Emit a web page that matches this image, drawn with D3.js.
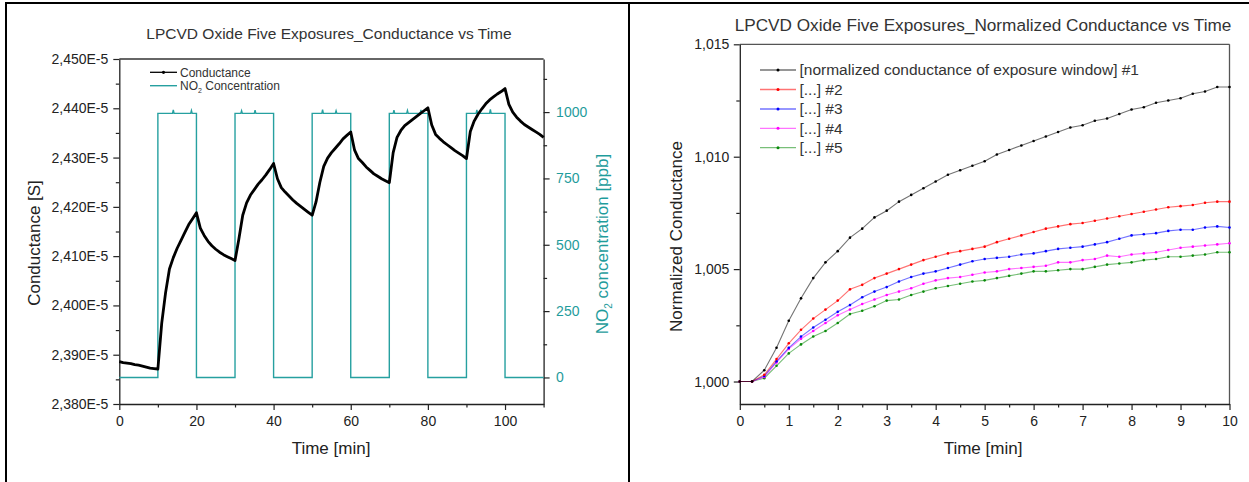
<!DOCTYPE html>
<html><head><meta charset="utf-8">
<script src="https://cdn.jsdelivr.net/npm/d3@7"></script>
<style>body{margin:0;background:#fff} svg{display:block} text{font-family:"Liberation Sans",Arial,sans-serif}</style>
</head><body><svg id="c" width="1249" height="482"></svg>
<script>
// ---------- Left chart data ----------
const condTime = d3.range(0, 111); // minutes
const condValue = [ // conductance in units of E-5 S
  2.3886, 2.3884, 2.3883, 2.3882, 2.3880, 2.3879, 2.3877, 2.3875, 2.3873, 2.3872, 2.3871,
  2.3964, 2.4026, 2.4074, 2.4097, 2.4116, 2.4132, 2.4148, 2.4164, 2.4176, 2.4188,
  2.4157, 2.4142, 2.4130, 2.4121, 2.4114, 2.4108, 2.4103, 2.4099, 2.4095, 2.4091,
  2.4135, 2.4183, 2.4208, 2.4224, 2.4235, 2.4246, 2.4255, 2.4265, 2.4276, 2.4288,
  2.4257, 2.4239, 2.4230, 2.4222, 2.4214, 2.4207, 2.4201, 2.4195, 2.4189, 2.4183,
  2.4210, 2.4250, 2.4282, 2.4299, 2.4310, 2.4319, 2.4328, 2.4338, 2.4345, 2.4352,
  2.4315, 2.4298, 2.4290, 2.4281, 2.4274, 2.4267, 2.4262, 2.4257, 2.4253, 2.4249,
  2.4310, 2.4341, 2.4355, 2.4365, 2.4371, 2.4377, 2.4383, 2.4389, 2.4395, 2.4401,
  2.4366, 2.4347, 2.4339, 2.4332, 2.4326, 2.4320, 2.4314, 2.4309, 2.4304, 2.4298,
  2.4353, 2.4374, 2.4388, 2.4399, 2.4409, 2.4417, 2.4423, 2.4429, 2.4434, 2.4440,
  2.4408, 2.4392, 2.4382, 2.4374, 2.4367, 2.4362, 2.4357, 2.4352, 2.4347, 2.4341
];
const no2Time  = [0, 10, 10, 13.8, 14, 14.2, 18.5, 18.7, 18.9, 20, 20,
  30, 30, 31.5, 31.7, 31.9, 35, 35.2, 35.4, 20+20, 40,
  50, 50, 52.5, 52.7, 52.9, 56, 56.2, 56.4, 60, 60,
  70, 70, 71, 71.2, 71.4, 74.5, 74.7, 74.9, 78, 78.2, 78.4, 80, 80,
  90, 90, 92.5, 92.7, 92.9, 96, 96.2, 96.4, 100, 100, 110];
const no2Value = [0, 0, 995, 995, 1008, 995, 995, 1006, 995, 995, 0,
  0, 995, 995, 1005, 995, 995, 1007, 995, 995, 0,
  0, 995, 995, 1009, 995, 995, 1005, 995, 995, 0,
  0, 995, 995, 1007, 995, 995, 1006, 995, 995, 1008, 995, 995, 0,
  0, 995, 995, 1008, 995, 995, 1010, 995, 995, 0, 0];
const leftYTicks = [2.38, 2.39, 2.40, 2.41, 2.42, 2.43, 2.44, 2.45];
const leftYMinor = [2.385, 2.395, 2.405, 2.415, 2.425, 2.435, 2.445];
const no2Ticks = [0, 250, 500, 750, 1000];
const no2Minor = [125, 375, 625, 875, 1125];
const leftXTicks = [0, 20, 40, 60, 80, 100];
const leftXMinor = [10, 30, 50, 70, 90, 110];

// ---------- Right chart data ----------
const normTime = [0,0.25,0.5,0.75,1,1.25,1.5,1.75,2,2.25,2.5,2.75,3,3.25,3.5,3.75,4,4.25,4.5,4.75,5,
  5.25,5.5,5.75,6,6.25,6.5,6.75,7,7.25,7.5,7.75,8,8.25,8.5,8.75,9,9.25,9.5,9.75,10];
const norm1 = [1.0000,1.0000,1.0005,1.0015,1.0027,1.0037,1.0046,1.0053,1.0058,1.0064,1.0068,1.0073,1.0076,1.0080,1.0083,1.0086,1.0089,1.0092,1.0094,1.0096,1.0098,
  1.0101,1.0103,1.0105,1.0107,1.0109,1.0111,1.0113,1.0114,1.0116,1.0117,1.0119,1.0121,1.0122,1.0124,1.0125,1.0126,1.0128,1.0129,1.0131,1.0131];
const norm2 = [1.0000,1.0000,1.0003,1.0010,1.0017,1.0023,1.0028,1.0032,1.0036,1.0041,1.0043,1.0046,1.0048,1.0050,1.0052,1.0054,1.00555,1.0057,1.0058,1.0059,1.0060,
  1.0062,1.00635,1.0065,1.00665,1.0068,1.0069,1.0070,1.00705,1.00715,1.00725,1.00735,1.00745,1.00755,1.00765,1.00775,1.0078,1.00785,1.00795,1.0080,1.0080];
const norm3 = [1.0000,1.0000,1.00025,1.0009,1.0015,1.0020,1.0024,1.00275,1.0031,1.0034,1.00375,1.0040,1.0042,1.00445,1.00465,1.0048,1.0049,1.00505,1.0052,1.00535,1.00545,
  1.0055,1.00555,1.00565,1.0057,1.0058,1.0059,1.00595,1.0060,1.0061,1.0062,1.00635,1.0065,1.00655,1.0066,1.0067,1.00675,1.00675,1.00685,1.0069,1.00685];
const norm4 = [1.0000,1.0000,1.0002,1.00085,1.00145,1.0019,1.00225,1.0026,1.00295,1.0032,1.00345,1.00365,1.00385,1.0040,1.00415,1.00435,1.0045,1.0046,1.00465,1.00475,1.00485,
  1.0049,1.0050,1.00505,1.0051,1.00515,1.0053,1.0053,1.0054,1.00545,1.0056,1.00555,1.00565,1.0057,1.00575,1.00585,1.00595,1.0060,1.00605,1.0061,1.00615];
const norm5 = [1.0000,1.0000,1.00015,1.0007,1.00125,1.00165,1.0020,1.00225,1.0026,1.0030,1.00315,1.00335,1.0036,1.00365,1.00385,1.0040,1.00415,1.00425,1.00435,1.00445,1.0045,
  1.0046,1.0047,1.0048,1.0049,1.0049,1.00495,1.0050,1.0050,1.0051,1.0052,1.00525,1.0053,1.0054,1.00545,1.00555,1.00555,1.0056,1.00565,1.00575,1.00575];
const normSeries = [norm1, norm2, norm3, norm4, norm5];
const normNames = ["[normalized conductance of exposure window] #1", "[...] #2", "[...] #3", "[...] #4", "[...] #5"];
const normColors = ["#000000", "#ff0000", "#0000ff", "#ff00ff", "#0a8a0a"];
const normYTicks = [1.000, 1.005, 1.010, 1.015];
const normYMinor = [1.0025, 1.0075, 1.0125];
const normXTicks = [0,1,2,3,4,5,6,7,8,9,10];
const normXMinor = [0.5,1.5,2.5,3.5,4.5,5.5,6.5,7.5,8.5,9.5];

const TEAL = "#26a0a0";
const TEAL_TEXT = "#1f9c9c";
const svg = d3.select("#c");
const comma = f => v => d3.format(f)(v).replace(".", ",");

// outer frame
svg.append("line").attr("x1",6).attr("x2",6).attr("y1",2).attr("y2",482).attr("stroke","#000").attr("stroke-width",2);
svg.append("line").attr("x1",5).attr("x2",1249).attr("y1",3).attr("y2",3).attr("stroke","#000").attr("stroke-width",2);
svg.append("line").attr("x1",629).attr("x2",629).attr("y1",2).attr("y2",482).attr("stroke","#000").attr("stroke-width",2);

function styleAxis(g, color) {
  g.selectAll("path.domain").attr("stroke", "#222").attr("stroke-width", 1.3);
  g.selectAll(".tick line").attr("stroke", "#222").attr("stroke-width", 1.2);
  g.selectAll(".tick text").attr("font-size", 14).attr("fill", color || "#222")
    .attr("font-family", '"Liberation Sans",Arial,sans-serif');
}

// ================= LEFT CHART =================
const L = {x0: 119.3, x1: 543.6, y0: 59, y1: 404};
const lx = d3.scaleLinear().domain([0, 110]).range([L.x0, L.x1]);
const ly = d3.scaleLinear().domain([2.38, 2.45]).range([L.y1, L.y0]);
const ly2 = d3.scaleLinear().domain([-100, 1200]).range([L.y1, L.y0]);

svg.append("line").attr("x1",L.x0).attr("x2",L.x1).attr("y1",L.y0).attr("y2",L.y0).attr("stroke","#333").attr("stroke-width",1.3);

svg.append("g").attr("transform",`translate(${L.x0},0)`).call(d3.axisLeft(ly).tickValues(leftYMinor).tickSize(3.5).tickFormat("")).call(g=>styleAxis(g)).call(g=>g.select(".domain").remove());
svg.append("g").attr("transform",`translate(${L.x1},0)`).call(d3.axisRight(ly2).tickValues(no2Minor).tickSize(3.5).tickFormat("")).call(g=>styleAxis(g)).call(g=>g.select(".domain").remove());
svg.append("g").attr("transform",`translate(0,${L.y1})`).call(d3.axisBottom(lx).tickValues(leftXMinor).tickSize(3.5).tickFormat("")).call(g=>styleAxis(g)).call(g=>g.select(".domain").remove());

svg.append("g").attr("transform",`translate(${L.x0},0)`)
  .call(d3.axisLeft(ly).tickValues(leftYTicks).tickSize(6).tickPadding(5).tickSizeOuter(0).tickFormat(v => comma(".3f")(v) + "E-5"))
  .call(g=>styleAxis(g));
svg.append("g").attr("transform",`translate(${L.x1},0)`)
  .call(d3.axisRight(ly2).tickValues(no2Ticks).tickSize(6).tickPadding(6.5).tickSizeOuter(0).tickFormat(d3.format("d")))
  .call(g=>styleAxis(g, TEAL_TEXT));
svg.append("g").attr("transform",`translate(0,${L.y1})`)
  .call(d3.axisBottom(lx).tickValues(leftXTicks).tickSize(6).tickPadding(6).tickSizeOuter(0).tickFormat(d3.format("d")))
  .call(g=>styleAxis(g));

const no2Pts = no2Time.map((t, i) => [t, no2Value[i]]);
svg.append("path").datum(no2Pts)
  .attr("d", d3.line().x(d => lx(d[0])).y(d => ly2(d[1])))
  .attr("fill","none").attr("stroke",TEAL).attr("stroke-width",1.4);

const condPts = condTime.map((t, i) => [t, condValue[i]]);
svg.append("path").datum(condPts)
  .attr("d", d3.line().x(d => lx(d[0])).y(d => ly(d[1])))
  .attr("fill","none").attr("stroke","#000").attr("stroke-width",2.8).attr("stroke-linejoin","round");

const lg = svg.append("g");
lg.append("line").attr("x1",150).attr("x2",177).attr("y1",72.3).attr("y2",72.3).attr("stroke","#000").attr("stroke-width",1.3);
lg.append("circle").attr("cx",163.5).attr("cy",72.3).attr("r",1.6).attr("fill","#000");
lg.append("text").attr("x",180).attr("y",72.3).attr("dy","0.35em").attr("font-size",12).attr("fill","#333").text("Conductance");
lg.append("line").attr("x1",150).attr("x2",177).attr("y1",85.7).attr("y2",85.7).attr("stroke",TEAL).attr("stroke-width",1.4);
const t2 = lg.append("text").attr("x",180).attr("y",85.7).attr("dy","0.35em").attr("font-size",12).attr("fill","#333");
t2.append("tspan").text("NO");
t2.append("tspan").attr("font-size",7).attr("dy",3).text("2");
t2.append("tspan").attr("dy",-3).text(" Concentration");

svg.append("text").attr("x",329).attr("y",34).attr("dy","0.35em").attr("text-anchor","middle").attr("font-size",15.5).attr("fill","#333")
  .text("LPCVD Oxide Five Exposures_Conductance vs Time");
svg.append("text").attr("transform","translate(34,243) rotate(-90)").attr("dy","0.35em").attr("text-anchor","middle").attr("font-size",17).attr("fill","#222")
  .text("Conductance [S]");
const rl = svg.append("text").attr("transform","translate(602.5,244) rotate(-90)").attr("dy","0.35em").attr("text-anchor","middle").attr("font-size",17).attr("fill",TEAL_TEXT);
rl.append("tspan").text("NO");
rl.append("tspan").attr("font-size",10).attr("dy",4).text("2");
rl.append("tspan").attr("dy",-4).text(" concentration [ppb]");
svg.append("text").attr("x",331).attr("y",448).attr("dy","0.35em").attr("text-anchor","middle").attr("font-size",17).attr("fill","#222")
  .text("Time [min]");

// ================= RIGHT CHART =================
const R = {x0: 739.8, x1: 1229.5, y0: 44.3, y1: 404};
const rx = d3.scaleLinear().domain([0, 10]).range([R.x0, R.x1]);
const ry = d3.scaleLinear().domain([0.999, 1.015]).range([R.y1, R.y0]);

svg.append("line").attr("x1",R.x0).attr("x2",R.x1).attr("y1",R.y0).attr("y2",R.y0).attr("stroke","#555").attr("stroke-width",1.3);
svg.append("line").attr("x1",R.x1).attr("x2",R.x1).attr("y1",R.y0).attr("y2",R.y1).attr("stroke","#555").attr("stroke-width",1.3);

svg.append("g").attr("transform",`translate(${R.x0},0)`).call(d3.axisLeft(ry).tickValues(normYMinor).tickSize(3.5).tickFormat("")).call(g=>styleAxis(g)).call(g=>g.select(".domain").remove());
svg.append("g").attr("transform",`translate(0,${R.y1})`).call(d3.axisBottom(rx).tickValues(normXMinor).tickSize(3.5).tickFormat("")).call(g=>styleAxis(g)).call(g=>g.select(".domain").remove());
svg.append("g").attr("transform",`translate(${R.x0},0)`)
  .call(d3.axisLeft(ry).tickValues(normYTicks).tickSize(6).tickPadding(4.5).tickSizeOuter(0).tickFormat(comma(".3f")))
  .call(g=>styleAxis(g));
svg.append("g").attr("transform",`translate(0,${R.y1})`)
  .call(d3.axisBottom(rx).tickValues(normXTicks).tickSize(6).tickPadding(6).tickSizeOuter(0).tickFormat(d3.format("d")))
  .call(g=>styleAxis(g));

const nline = d3.line().x(d => rx(d[0])).y(d => ry(d[1]));
normSeries.slice().reverse().forEach((s, ri) => {
  const i = normSeries.length - 1 - ri;
  const pts = normTime.map((t, k) => [t, s[k]]);
  const g = svg.append("g");
  g.append("path").datum(pts).attr("d", nline).attr("fill","none")
    .attr("stroke", normColors[i]).attr("stroke-opacity", 0.55).attr("stroke-width", 1.1);
  g.selectAll("circle").data(pts).join("circle")
    .attr("cx", d => rx(d[0])).attr("cy", d => ry(d[1])).attr("r", 1.3).attr("fill", normColors[i]);
});

const rowsY = [70, 89.5, 109, 128.3, 147.7];
normNames.forEach((n, i) => {
  svg.append("line").attr("x1",760).attr("x2",796).attr("y1",rowsY[i]).attr("y2",rowsY[i])
    .attr("stroke",normColors[i]).attr("stroke-opacity",0.55).attr("stroke-width",1.3);
  svg.append("circle").attr("cx",778).attr("cy",rowsY[i]).attr("r",1.5).attr("fill",normColors[i]);
  svg.append("text").attr("x",799.5).attr("y",rowsY[i]).attr("dy","0.35em").attr("font-size",15.5).attr("fill","#333").text(n);
});

svg.append("text").attr("x",983).attr("y",25).attr("dy","0.35em").attr("text-anchor","middle").attr("font-size",17.2).attr("fill","#333")
  .text("LPCVD Oxide Five Exposures_Normalized Conductance vs Time");
svg.append("text").attr("transform","translate(676,236.5) rotate(-90)").attr("dy","0.35em").attr("text-anchor","middle").attr("font-size",17).attr("fill","#222")
  .text("Normalized Conductance");
svg.append("text").attr("x",983).attr("y",448).attr("dy","0.35em").attr("text-anchor","middle").attr("font-size",17).attr("fill","#222")
  .text("Time [min]");
</script></body></html>
